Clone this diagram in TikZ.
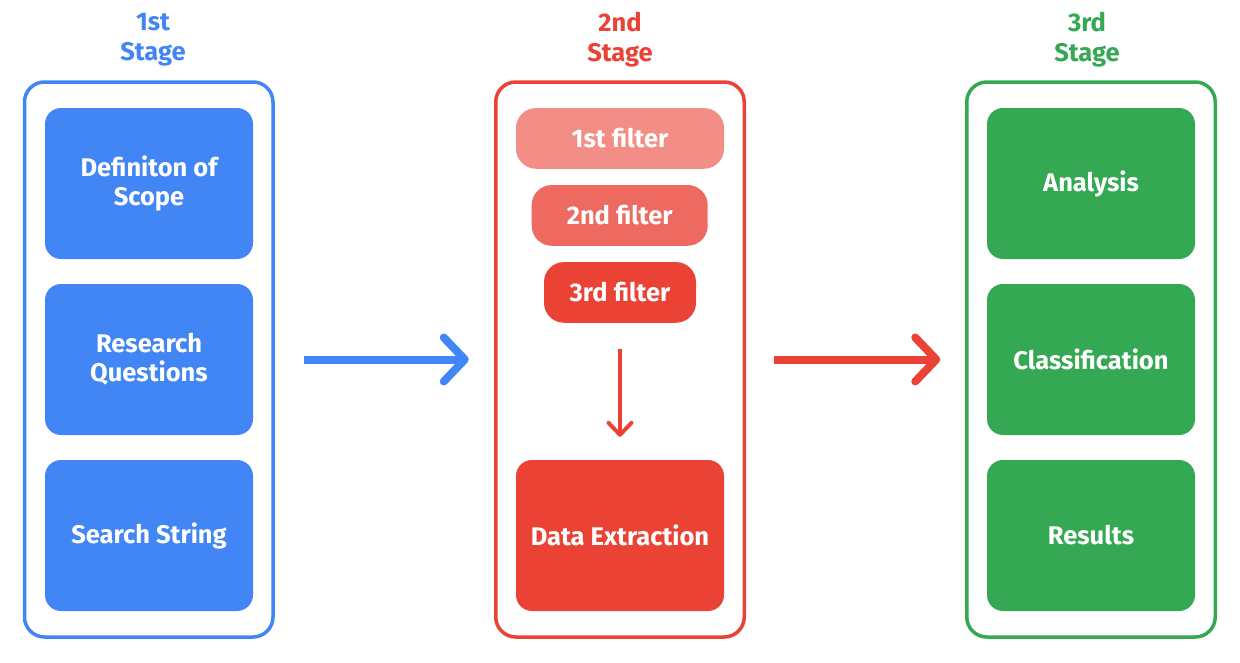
\documentclass[tikz,border=0pt]{standalone}
\usepackage{fontspec}
\setmainfont{Fira Sans}
\usetikzlibrary{arrows.meta}
\definecolor{gblue}{HTML}{4285F4}
\definecolor{gred}{HTML}{EA4335}
\definecolor{ggreen}{HTML}{34A853}
\definecolor{fone}{HTML}{F28E86}
\definecolor{ftwo}{HTML}{EE6A60}
\begin{document}
\begin{tikzpicture}[x=1pt,y=-1pt,
  outerbox/.style={draw, line width=3.5pt, rounded corners=20pt, minimum width=248.5pt, minimum height=555pt, inner sep=0pt},
  innerbox/.style={rounded corners=16pt, minimum width=208pt, minimum height=151pt, inner sep=0pt, text=white, font=\bfseries\fontsize{25.5}{29}\selectfont, align=center},
  filterbox/.style={rounded corners=20pt, minimum height=60.7pt, inner sep=0pt, text=white, font=\bfseries\fontsize{25.5}{29}\selectfont},
  stagelabel/.style={font=\bfseries\fontsize{25.5}{30}\selectfont, align=center},
  bigarrow/.style={line width=8pt, -{Straight Barb[length=21pt, width=44pt, round]}},
  smallarrow/.style={line width=4pt, -{Straight Barb[length=12pt, width=23pt, round]}}
]
\useasboundingbox (0,0) rectangle (1240,662);
% stage frames
\node[outerbox, gblue] (s1) at (148.75,359.5) {};
\node[outerbox, gred] (s2) at (620,359.5) {};
\node[outerbox, ggreen] (s3) at (1091,359.5) {};
% stage labels
\node[stagelabel, text=gblue] (l1) at (153,40) {1st\\Stage};
\node[stagelabel, text=gred] (l2) at (620,40) {2nd\\Stage};
\node[stagelabel, text=ggreen] (l3) at (1087,40) {3rd\\Stage};
% stage 1
\node[innerbox, fill=gblue] (b1) at (149,183.5) {Definiton of\\Scope};
\node[innerbox, fill=gblue] (b2) at (149,359.5) {Research\\Questions};
\node[innerbox, fill=gblue] (b3) at (149,535.5) {Search String};
% stage 2
\node[filterbox, fill=fone, minimum width=208pt] (f1) at (620,138.4) {1st filter};
\node[filterbox, fill=ftwo, minimum width=176pt] (f2) at (619.7,215.4) {2nd filter};
\node[filterbox, fill=gred, minimum width=152pt] (f3) at (620,292.4) {3rd filter};
\node[innerbox, fill=gred] (de) at (620,535.5) {Data Extraction};
% stage 3
\node[innerbox, fill=ggreen] (g1) at (1091,183.5) {Analysis};
\node[innerbox, fill=ggreen] (g2) at (1091,359.5) {Classification};
\node[innerbox, fill=ggreen] (g3) at (1091,535.5) {Results};
% arrows
\draw[bigarrow, gblue, shorten <=29pt, shorten >=25.25pt] (s1.east) -- (s2.west);
\draw[bigarrow, gred, shorten <=28.25pt, shorten >=24.75pt] (s2.east) -- (s3.west);
\draw[smallarrow, gred, shorten <=26.3pt, shorten >=23pt] (f3.south) -- (de.north);
\end{tikzpicture}
\end{document}
